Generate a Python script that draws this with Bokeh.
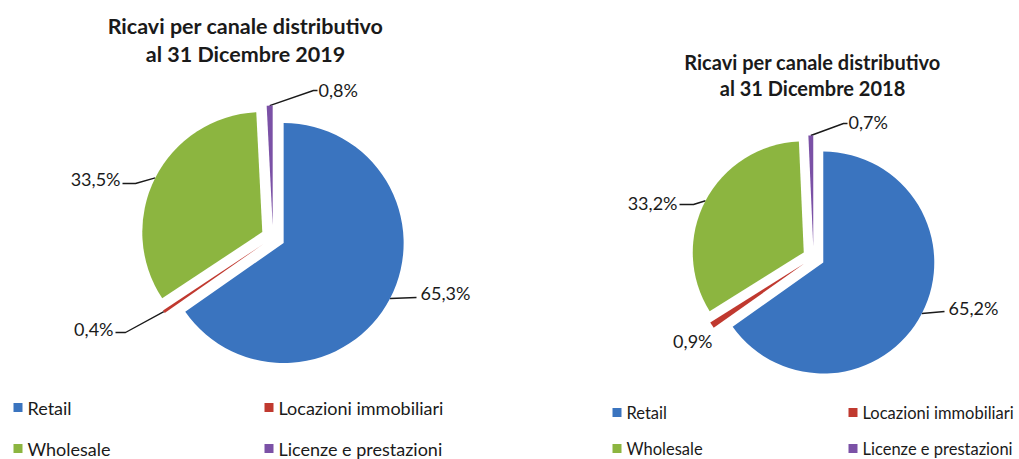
import math
from bokeh.plotting import figure
from bokeh.models import Range1d, ColumnDataSource
from bokeh.core.properties import value
from bokeh.embed import file_html
from bokeh.resources import INLINE

W, H = 1019, 459

# ---------------- data ----------------
categories = ["Retail", "Locazioni immobiliari", "Wholesale", "Licenze e prestazioni"]
values_2019 = [65.3, 0.4, 33.5, 0.8]
values_2018 = [65.2, 0.9, 33.2, 0.7]
labels_2019 = ["65,3%", "0,4%", "33,5%", "0,8%"]
labels_2018 = ["65,2%", "0,9%", "33,2%", "0,7%"]
title_2019 = ["Ricavi per canale distributivo", "al 31 Dicembre 2019"]
title_2018 = ["Ricavi per canale distributivo", "al 31 Dicembre 2018"]

# ---------------- style ----------------
colors = ["#3a74bf", "#c0392f", "#8cb540", "#7b51a6"]
FONT = "Lato"
LINE_COLOR = "#1a1a1a"


def sy(y):
    """screen y (top=0) -> data y (bottom=0)"""
    return H - y


p = figure(width=W, height=H, x_range=Range1d(0, W), y_range=Range1d(0, H),
           toolbar_location=None, output_backend="svg", min_border=0,
           x_axis_location=None, y_axis_location=None,
           outline_line_color=None, background_fill_color="white",
           border_fill_color="white")
p.grid.visible = False


def draw_pie(vals, labels, cx, cy, r, d, label_layout):
    total = float(sum(vals))
    t = 0.0
    xs, ys, sa, ea = [], [], [], []
    for i, v in enumerate(vals):
        t1 = t
        t2 = t + 2 * math.pi * v / total
        t = t2
        tm = (t1 + t2) / 2
        ccx = cx + d * math.sin(tm)
        ccy = sy(cy) + d * math.cos(tm)
        xs.append(ccx)
        ys.append(ccy)
        sa.append(math.pi / 2 - t2)
        ea.append(math.pi / 2 - t1)
        # leader line
        px = ccx + r * math.sin(tm)
        py = ccy + r * math.cos(tm)
        tx, ty, align, pts = label_layout[i]
        if pts:
            lx = [px] + [q[0] for q in pts]
            ly = [py] + [sy(q[1]) for q in pts]
            p.line(lx, ly, line_color=LINE_COLOR, line_width=1.4)
        p.text([tx], [sy(ty)], text=[labels[i]], text_font=value(FONT),
               text_font_size="18px", text_color="#1a1a1a",
               text_align=align, text_baseline="middle")
    src = ColumnDataSource(dict(x=xs, y=ys, s=sa, e=ea, c=colors, name=categories))
    p.wedge(x="x", y="y", radius=r, start_angle="s", end_angle="e",
            fill_color="c", line_color=None, direction="anticlock", source=src)


# label layout: (text x, text y, align, leader knee points in screen coords)
layout_2019 = [
    (420, 292, "left", [(416, 297)]),
    (113, 328, "right", [(125, 332), (115, 332)]),
    (120, 178, "right", [(135, 183), (122, 183)]),
    (318, 89, "left", [(313, 90), (317, 90)]),
]
layout_2018 = [
    (948, 307, "left", [(944, 311)]),
    (712, 340, "right", []),
    (677, 202, "right", [(693, 204), (679, 204)]),
    (848, 121, "left", [(843, 123), (847, 123)]),
]

draw_pie(values_2019, labels_2019, 272.5, 237, 120, 12, layout_2019)
draw_pie(values_2018, labels_2018, 813, 257, 111, 11, layout_2018)

# titles
for lines, cx, y0, dy, fs in [(title_2019, 245, 25, 28, "21.5px"),
                              (title_2018, 812, 61, 26, "20px")]:
    p.text([cx, cx], [sy(y0), sy(y0 + dy)], text=lines, text_font=value(FONT),
           text_font_style="bold", text_font_size=fs, text_color="#1a1a1a",
           text_align="center", text_baseline="middle")

# legends
def draw_legend(col_x, row_y, fs):
    order = [(0, 0), (1, 1), (2, 0), (3, 1)]  # (category index, column)
    rows = [0, 0, 1, 1]
    for k, (ci, col) in enumerate(order):
        x0 = col_x[col]
        y0 = row_y[rows[k]]
        p.rect([x0 + 4.5], [sy(y0)], width=9, height=9, fill_color=colors[ci],
               line_color=None)
        p.text([x0 + 14], [sy(y0)], text=[categories[ci]], text_font=value(FONT),
               text_font_size=fs, text_color="#1a1a1a",
               text_align="left", text_baseline="middle")

draw_legend([13, 264], [407, 448], "18px")
draw_legend([612, 848], [412, 448], "16.5px")

open("out.html", "w").write(file_html(p, INLINE))
